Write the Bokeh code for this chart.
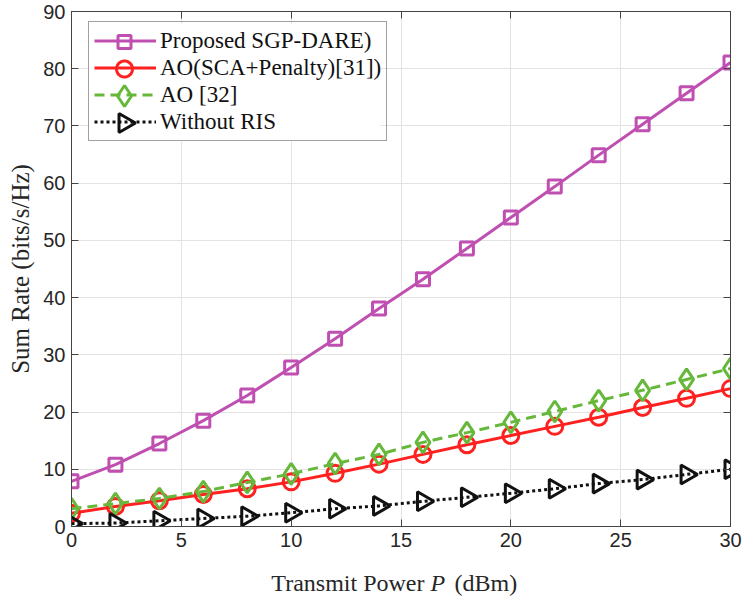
import numpy as np
from bokeh.plotting import figure
from bokeh.layouts import column
from bokeh.models import (Legend, LegendItem, LinearAxis, Range1d, Label,
                          FixedTicker, PolyAnnotation, BoxAnnotation)
from bokeh.embed import file_html
from bokeh.resources import INLINE

# Transmit power grid (dBm)
power_dbm = [0, 2, 4, 6, 8, 10, 12, 14, 16, 18, 20, 22, 24, 26, 28, 30]

# Sum rate (bits/s/Hz) for each scheme
rate_proposed = [7.9, 10.8, 14.5, 18.5, 22.9, 27.8, 32.8, 38.1,
                 43.2, 48.6, 54.0, 59.4, 64.9, 70.3, 75.7, 81.1]
rate_ao_sca = [2.3, 3.5, 4.5, 5.6, 6.6, 7.8, 9.3, 10.9,
               12.6, 14.3, 15.9, 17.5, 19.1, 20.8, 22.4, 24.1]
rate_ao32 = [3.1, 4.0, 4.9, 6.1, 7.7, 9.2, 11.0, 12.6,
             14.7, 16.4, 18.2, 20.1, 22.0, 23.8, 25.7, 27.6]
rate_no_ris = [0.5, 0.6, 1.0, 1.4, 1.8, 2.4, 3.1, 3.6,
               4.4, 5.1, 5.8, 6.6, 7.5, 8.2, 9.1, 10.0]

labels = ["Proposed SGP-DARE)", "AO(SCA+Penalty)[31])", "AO [32]", "Without RIS"]
x_ticks = [0, 5, 10, 15, 20, 25, 30]
y_ticks = [0, 10, 20, 30, 40, 50, 60, 70, 80, 90]

SERIF = "Liberation Serif"
SANS = "Liberation Sans"
TXT = "#262626"
W = 745
MAIN_H = 556
LABEL_H = 41
FRAME_BOTTOM = 30

p = figure(width=W, height=MAIN_H, output_backend="svg", toolbar_location=None,
           x_range=Range1d(0, 30), y_range=Range1d(0, 90),
           min_border_left=71, min_border_right=15, min_border_top=11,
           min_border_bottom=FRAME_BOTTOM)

p.background_fill_color = "white"
p.border_fill_color = "white"
p.outline_line_color = "#555555"
p.outline_line_width = 1

# grid
p.xgrid.ticker = FixedTicker(ticks=x_ticks)
p.ygrid.ticker = FixedTicker(ticks=y_ticks)
for g in (p.xgrid[0], p.ygrid[0]):
    g.grid_line_color = "#e3e3e3"
    g.grid_line_width = 1

def style_axis(ax, show_labels=True):
    ax.axis_line_color = "#444444"
    ax.axis_line_width = 1
    ax.major_tick_in = 7
    ax.major_tick_out = 0
    ax.minor_tick_in = 0
    ax.minor_tick_out = 0
    ax.major_tick_line_color = "#444444"
    ax.major_label_text_font = SANS
    ax.major_label_text_font_size = "20px"
    ax.major_label_text_color = TXT
    if not show_labels:
        ax.major_label_text_font_size = "0px"
        ax.major_label_text_color = None

xa = p.xaxis[0]
xa.ticker = FixedTicker(ticks=x_ticks)
style_axis(xa)
xa.major_label_standoff = 6
xa.axis_label = None

ya = p.yaxis[0]
ya.ticker = FixedTicker(ticks=y_ticks)
style_axis(ya)
ya.major_label_standoff = 6
ya.axis_label = "Sum Rate (bits/s/Hz)"
ya.axis_label_text_font = SERIF
ya.axis_label_text_font_style = "normal"
ya.axis_label_text_font_size = "25px"
ya.axis_label_text_color = TXT
ya.axis_label_standoff = 6

top = LinearAxis(ticker=FixedTicker(ticks=x_ticks))
style_axis(top, show_labels=False)
p.add_layout(top, "above")
right = LinearAxis(ticker=FixedTicker(ticks=y_ticks))
style_axis(right, show_labels=False)
p.add_layout(right, "right")

LW = 3
series = [
    (rate_proposed, "#bf4fb0", "solid", "square", 13),
    (rate_ao_sca, "#ff2020", "solid", "circle", 16),
    (rate_ao32, "#66b83a", "10 6", "diamond", 21),
    (rate_no_ris, "#111111", "3 3", "triangle", 19),
]

# legend box geometry (frame-relative screen pixels, y up)
LEG_X, LEG_Y = 17, 385
PAD, GW, GH = 5, 62, 27
n_rows = len(labels)
box_top = LEG_Y + 2 * PAD + n_rows * GH
cx = LEG_X + PAD + GW / 2

# opaque white panel behind the (transparent) legend, above the grid
p.add_layout(BoxAnnotation(left=LEG_X, right=LEG_X + 292, bottom=LEG_Y, top=box_top,
                           left_units="screen", right_units="screen",
                           bottom_units="screen", top_units="screen",
                           fill_color="white", fill_alpha=1, line_alpha=0,
                           level="glyph"))

items = []
for (vals, color, dash, marker, size), label in zip(series, labels):
    ln = p.line(power_dbm, vals, line_color=color, line_width=LW, line_dash=dash)
    kw = {}
    if marker == "triangle":
        kw["angle"] = -np.pi / 2
    p.scatter(power_dbm, vals, marker=marker, size=size, line_color=color,
              line_width=LW, fill_alpha=0, **kw)
    items.append(LegendItem(label=label, renderers=[ln]))

legend = Legend(items=items, location=(LEG_X, LEG_Y))
legend.label_text_font = SERIF
legend.label_text_font_size = "23px"
legend.label_text_color = "#111111"
legend.glyph_width = GW
legend.glyph_height = GH
legend.label_height = GH
legend.spacing = 0
legend.padding = PAD
legend.margin = 0
legend.label_standoff = 4
legend.border_line_color = "#444444"
legend.border_line_width = 1
legend.background_fill_alpha = 0
p.add_layout(legend, "center")

# full-size marker samples at the centre of each legend line sample
def marker_outline(kind, size):
    if kind == "square":
        h = size / 2
        return [-h, h, h, -h], [-h, -h, h, h]
    if kind == "circle":
        t = np.linspace(0, 2 * np.pi, 40, endpoint=False)
        return list(size / 2 * np.cos(t)), list(size / 2 * np.sin(t))
    if kind == "diamond":
        r = size / 2
        return [0, r / 1.5, 0, -r / 1.5], [r, 0, -r, 0]
    # triangle pointing right
    r = size / 2
    h = r * np.sqrt(3)
    return [-h / 3, -h / 3, 2 * h / 3], [-r, r, 0]

for i, (vals, color, dash, marker, size) in enumerate(series):
    cy = box_top - PAD - GH * i - GH / 2
    mx, my = marker_outline(marker, size)
    p.add_layout(PolyAnnotation(xs=[float(cx + v) for v in mx],
                                ys=[float(cy + v) for v in my],
                                xs_units="screen", ys_units="screen",
                                fill_color="white", fill_alpha=0,
                                line_color=color, line_alpha=1,
                                line_width=LW))

# x axis title strip, with an italic P (positions relative to the aligned frame)
lab = figure(width=W, height=LABEL_H, output_backend="svg", toolbar_location=None,
             x_range=Range1d(0, W), y_range=Range1d(0, LABEL_H),
             x_axis_location=None, y_axis_location=None,
             min_border=0, outline_line_color=None)
lab.grid.visible = False
lab_kw = dict(y=15, x_units="screen", y_units="screen", text_font=SERIF,
              text_font_size="24px", text_color=TXT, text_baseline="alphabetic")
lab.add_layout(Label(x=353, text="Transmit Power", text_align="right", **lab_kw))
lab.add_layout(Label(x=359, text="P", text_align="left", text_font_style="italic", **lab_kw))
lab.add_layout(Label(x=383, text="(dBm)", text_align="left", **lab_kw))

layout = column(p, lab, spacing=0)
open("out.html", "w").write(file_html(layout, INLINE))
